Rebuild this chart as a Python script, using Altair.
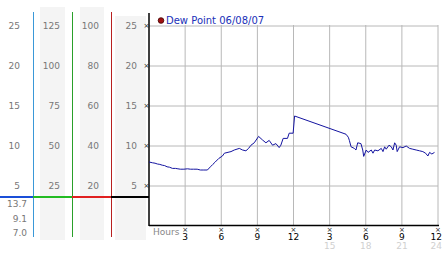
import altair as alt
import pandas as pd

# ---- data ----
hours = [0.0, 0.3, 0.5, 0.7, 0.9, 1.1, 1.3, 1.5, 1.7, 1.95, 2.2, 2.4, 2.6, 2.9, 3.2, 3.44,
         3.7, 4.0, 4.27, 4.5, 4.85, 5.1, 5.3, 5.5, 5.8, 6.1, 6.26, 6.81, 7.08, 7.5, 7.77,
         8.05, 8.27, 8.47, 8.74, 9.1, 9.43, 9.71, 9.98, 10.26, 10.54, 10.81, 10.95, 11.14,
         11.5, 11.64, 11.97, 12.09, 16.36, 16.55, 16.64, 16.78, 17.05, 17.19, 17.33, 17.6,
         17.75, 17.83, 18.04, 18.19, 18.46, 18.6, 18.74, 19.01, 19.29, 19.43, 19.57, 19.7,
         19.93, 20.12, 20.26, 20.4, 20.53, 20.61, 20.81, 21.09, 21.36, 21.64, 21.91, 22.19,
         22.47, 22.74, 22.97, 23.16, 23.3, 23.49, 23.71]
dew = [8.0, 7.9, 7.85, 7.75, 7.7, 7.6, 7.55, 7.4, 7.35, 7.2, 7.2, 7.15, 7.1, 7.1, 7.15, 7.1,
       7.1, 7.1, 7.0, 7.0, 7.0, 7.4, 7.7, 8.0, 8.45, 8.75, 9.1, 9.3, 9.5, 9.7, 9.5,
       9.4, 9.7, 10.1, 10.4, 11.2, 10.75, 10.4, 10.7, 10.1, 10.3, 9.8, 10.1, 10.95,
       10.95, 11.6, 11.6, 13.75, 11.47, 11.1, 10.7, 9.9, 9.7, 9.5, 10.4, 10.3,
       9.5, 8.7, 9.5, 9.2, 9.5, 9.1, 9.5, 9.4, 9.7, 9.3, 9.9, 9.6,
       10.1, 9.9, 9.5, 10.4, 10.1, 9.3, 9.9, 9.8, 10.0, 9.7, 9.6, 9.5,
       9.4, 9.3, 9.1, 8.75, 9.2, 9.0, 9.2]

levels = [25, 20, 15, 10, 5]
col2_labels = ["125", "100", "75", "50", "25"]
col3_labels = ["100", "80", "60", "40", "20"]
stats = ["13.7", "9.1", "7.0"]          # max, current, min
tick_hours = [3, 6, 9, 12, 15, 18, 21, 24]
tick_labels = ["3", "6", "9", "12", "3", "6", "9", "12"]
pm_hours = [15, 18, 21, 24]
pm_labels = ["15", "18", "21", "24"]
legend_text = "Dew Point 06/08/07"

FONT = "DejaVu Sans"
OX = 149  # plot origin (left padding)

def px(x):
    return x - OX

line_df = pd.DataFrame({"hour": hours, "dew": dew})
lvl_df = pd.DataFrame({"level": levels, "c1": [str(v) for v in levels],
                       "c2": col2_labels, "c3": col3_labels})
tick_df = pd.DataFrame({"hour": tick_hours, "lab": tick_labels})
pm_df = pd.DataFrame({"hour": pm_hours, "lab": pm_labels})
one = pd.DataFrame({"a": [0]})

yscale = alt.Scale(domain=[0, 28.25], nice=False, zero=False)
xscale = alt.Scale(domain=[0, 24], nice=False, zero=False)
Y = lambda f: alt.Y(f, type="quantitative", scale=yscale, axis=None)
X = lambda f: alt.X(f, type="quantitative", scale=xscale, axis=None)

layers = []

# gray column backgrounds in the left panel
for x1, x2, y1 in [(40, 65, 7), (80, 104, 7), (115, 146, 16)]:
    layers.append(alt.Chart(one).mark_rect(color="#f4f4f4").encode(
        x=alt.value(px(x1)), x2=alt.value(px(x2)), y=alt.value(y1), y2=alt.value(240)))

# colored vertical separators
for xv, col in [(33, "#3a98d8"), (72, "#2aa02a"), (111, "#b82020")]:
    layers.append(alt.Chart(one).mark_rule(color=col, strokeWidth=1).encode(
        x=alt.value(px(xv) + 0.5), y=alt.value(12), y2=alt.value(237)))

# colored horizontal segments
for x1, x2, col in [(0, 33, "#1a4fd8"), (33, 72, "#22bb22"), (72, 111, "#e02020"), (111, 149, "#000000")]:
    layers.append(alt.Chart(one).mark_rule(color=col, strokeWidth=2).encode(
        x=alt.value(px(x1)), x2=alt.value(px(x2)), y=alt.value(197)))

# left panel labels
for field, xr in [("c1", 20), ("c2", 60), ("c3", 99), ("c1", 137)]:
    layers.append(alt.Chart(lvl_df).mark_text(
        align="right", baseline="middle", font=FONT, fontSize=9, color="#777777").encode(
        x=alt.value(px(xr)), y=Y("level"), text=alt.Text(field + ":N")))

# stats under the line
for i, s in enumerate(stats):
    layers.append(alt.Chart(one).mark_text(
        align="right", baseline="middle", font=FONT, fontSize=9, color="#777777").encode(
        x=alt.value(px(27)), y=alt.value(204 + 14.5 * i), text=alt.value(s)))

# horizontal grid
layers.append(alt.Chart(lvl_df).mark_rule(color="#b8b8b8", strokeWidth=1).encode(
    y=Y("level"), x=alt.value(0), x2=alt.value(289)))
# vertical grid
layers.append(alt.Chart(tick_df).mark_rule(color="#b8b8b8", strokeWidth=1).encode(
    x=X("hour"), y=alt.value(25), y2=alt.value(226)))

# y tick glyphs
layers.append(alt.Chart(lvl_df).mark_text(
    align="center", baseline="middle", font=FONT, fontSize=7, color="#222222", text="×").encode(
    x=alt.value(-2.5), y=Y("level")))

# axis lines
layers.append(alt.Chart(one).mark_rule(color="#000000", strokeWidth=1.5).encode(
    x=alt.value(0), y=alt.value(13), y2=alt.value(226)))
layers.append(alt.Chart(one).mark_rule(color="#000000", strokeWidth=1.5).encode(
    x=alt.value(0), x2=alt.value(290), y=alt.value(225.5)))

# data line
layers.append(alt.Chart(line_df).mark_line(color="#1414a0", strokeWidth=1).encode(
    x=X("hour"), y=Y("dew")))

# x tick glyphs and labels
layers.append(alt.Chart(tick_df).mark_text(
    align="center", baseline="middle", font=FONT, fontSize=7, color="#222222", text="×").encode(
    x=X("hour"), y=alt.value(229.5)))
layers.append(alt.Chart(tick_df).transform_filter(alt.datum.hour < 24).mark_text(
    align="center", baseline="middle", font=FONT, fontSize=9, color="#000000").encode(
    x=X("hour"), y=alt.value(237), text="lab:N"))
layers.append(alt.Chart(tick_df).transform_filter(alt.datum.hour >= 24).mark_text(
    align="right", baseline="middle", font=FONT, fontSize=9, color="#000000", dx=4).encode(
    x=X("hour"), y=alt.value(237), text="lab:N"))
layers.append(alt.Chart(pm_df).transform_filter(alt.datum.hour < 24).mark_text(
    align="center", baseline="middle", font=FONT, fontSize=9, color="#d0d0d0").encode(
    x=X("hour"), y=alt.value(246), text="lab:N"))
layers.append(alt.Chart(pm_df).transform_filter(alt.datum.hour >= 24).mark_text(
    align="right", baseline="middle", font=FONT, fontSize=9, color="#d0d0d0", dx=4).encode(
    x=X("hour"), y=alt.value(246), text="lab:N"))
layers.append(alt.Chart(one).mark_text(
    align="left", baseline="middle", font=FONT, fontSize=9, color="#888888").encode(
    x=alt.value(px(153)), y=alt.value(232), text=alt.value("Hours")))

# legend
layers.append(alt.Chart(one).mark_point(
    shape="circle", filled=True, size=32, color="#a01010", stroke="#400000", strokeWidth=0.8, opacity=1).encode(
    x=alt.value(px(161)), y=alt.value(20.5)))
layers.append(alt.Chart(one).mark_text(
    align="left", baseline="middle", font=FONT, fontSize=10, color="#2030b8").encode(
    x=alt.value(px(166)), y=alt.value(20.5), text=alt.value(legend_text)))

chart = alt.layer(*layers).properties(
    width=289, height=226,
    autosize=alt.AutoSizeParams(type="none"),
    padding={"left": OX, "top": 0, "right": 4, "bottom": 27},
    background="#ffffff",
).configure_view(stroke=None)

chart.save("out.html", embed_options={"renderer": "svg", "actions": False})
